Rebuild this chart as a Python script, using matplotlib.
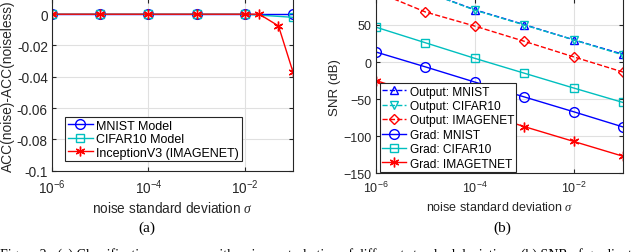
import numpy as np
import matplotlib
matplotlib.use('Agg')
import matplotlib.pyplot as plt

plt.rcParams['font.family'] = ['Liberation Sans', 'DejaVu Sans']
plt.rcParams['mathtext.fontset'] = 'custom'
plt.rcParams['mathtext.rm'] = 'Liberation Sans'
plt.rcParams['mathtext.it'] = 'Liberation Serif:italic'

# (a) accuracy difference
sig = [1e-6, 1e-5, 1e-4, 1e-3, 1e-2, 1e-1]
acc_mnist = [0, 0, 0, 0, 0, 0]
acc_cifar = [0, 0, 0, 0, 0, -0.002]
sig_inc = [1e-6, 1e-5, 1e-4, 1e-3, 1e-2, 2e-2, 5e-2, 1e-1]
acc_inc = [0, 0, 0, 0, 0, 0, -0.0075, -0.037]

# (b) SNR in dB
out_mnist = [115, 95, 70.5, 50.5, 30, 10.5]
out_cifar = [115, 95, 70, 50, 30, 9.5]
out_imnet = [95, 67.5, 48.5, 28, 7, -13.5]
grad_mnist = [13.5, -6.5, -27, -47, -67, -87.5]
grad_cifar = [47, 26, 5, -15, -35, -54.5]
grad_imnet = [-25, -46, -66, -87, -107, -127]

fig = plt.figure(figsize=(6.4, 2.53), dpi=100)
star = (6, 2, 0)  # asterisk like matlab '*'

def style(ax, fs):
    ax.set_xscale('log')
    ax.minorticks_off()
    ax.grid(True, color='0.88', linewidth=0.8)
    ax.set_axisbelow(True)
    ax.tick_params(direction='in', top=True, right=True, labelsize=fs, length=3,
                   color='0.15', labelcolor='0.15', pad=3)
    ax.tick_params(axis='x', pad=5)
    for s in ax.spines.values():
        s.set_color('0.15')
        s.set_linewidth(0.8)
    ax.spines['top'].set_visible(False)
    ax.set_xlim(1e-6, 1e-1)
    ax.set_xticks([1e-6, 1e-4, 1e-2])
    ax.set_xticklabels([r'$\mathregular{10^{-6}}$', r'$\mathregular{10^{-4}}$',
                        r'$\mathregular{10^{-2}}$'])
    ax.set_xlabel(r'noise standard deviation $\sigma$', fontsize=fs, color='0.15', labelpad=3)

ax1 = fig.add_axes([52/640, 81.3/253, 241/640, 171.7/253])
style(ax1, 9.8)
ax1.plot(sig, acc_mnist, '-o', color='b', mfc='none', ms=7, lw=1, label='MNIST Model')
ax1.plot(sig, acc_cifar, '-s', color='c', mfc='none', ms=5.5, lw=1, label='CIFAR10 Model')
ax1.plot(sig_inc, acc_inc, '-', marker=star, color='r', ms=7, lw=1, label='InceptionV3 (IMAGENET)')
ax1.set_ylim(-0.1, 0.0097)
ax1.set_yticks([0, -0.02, -0.04, -0.06, -0.08, -0.1])
ax1.set_yticklabels(['0', '-0.02', '-0.04', '-0.06', '-0.08', '-0.1'])
ax1.set_ylabel('ACC(noise)-ACC(noiseless)', fontsize=9.9, color='0.15', labelpad=1)
leg = ax1.legend(loc='lower left', bbox_to_anchor=(0.054, 0.055), fontsize=9,
                 fancybox=False, framealpha=1, edgecolor='0.15', borderpad=0.2,
                 handlelength=2.0, handletextpad=0.3, labelspacing=0.12, borderaxespad=0)
leg.get_frame().set_linewidth(0.8)

ax2 = fig.add_axes([376/640, 78.7/253, 247/640, 174.3/253])
style(ax2, 9)
ax2.plot(sig, out_mnist, '--^', color='b', mfc='none', ms=6, lw=1, label='Output: MNIST')
ax2.plot(sig, out_cifar, '--v', color='c', mfc='none', ms=6, lw=1, label='Output: CIFAR10')
ax2.plot(sig, out_imnet, '--D', color='r', mfc='none', ms=5.5, lw=1, label='Output: IMAGENET')
ax2.plot(sig, grad_mnist, '-o', color='b', mfc='none', ms=7, lw=1, label='Grad: MNIST')
ax2.plot(sig, grad_cifar, '-s', color='c', mfc='none', ms=5.5, lw=1, label='Grad: CIFAR10')
ax2.plot(sig, grad_imnet, '-', marker=star, color='r', ms=7, lw=1, label='Grad: IMAGETNET')
ax2.set_ylim(-150, 85)
ax2.set_yticks([50, 0, -50, -100, -150])
ax2.set_ylabel('SNR (dB)', fontsize=9.5, color='0.15', labelpad=2)
leg2 = ax2.legend(loc='lower left', bbox_to_anchor=(0.015, 0.008), fontsize=8.6,
                  fancybox=False, framealpha=1, edgecolor='0.15', borderpad=0.2,
                  handlelength=2.0, handletextpad=0.3, labelspacing=0.2, borderaxespad=0)
leg2.get_frame().set_linewidth(0.8)

fig.text(147/640, 1 - 228/253, '(a)', ha='center', va='center', fontsize=11,
         family='Liberation Serif')
fig.text(502/640, 1 - 228/253, '(b)', ha='center', va='center', fontsize=11,
         family='Liberation Serif')
fig.text(0.0, 1 - 255/253,
         'Figure 2:  (a) Classification accuracy with noise perturbation of different standard deviation.  (b) SNR of gradient and output under noise',
         ha='left', va='center', fontsize=10, family='Liberation Serif')

fig.savefig('out.png', dpi=100)
